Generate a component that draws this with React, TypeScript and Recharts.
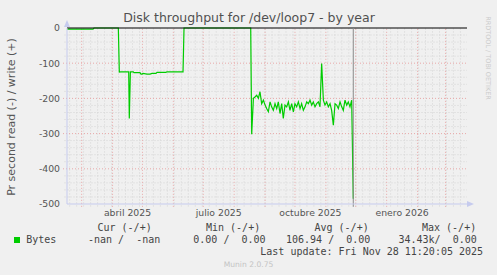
import { LineChart, Line, XAxis, YAxis, ReferenceLine } from "recharts";

// days counted from 1 Jan 2025
const X_MIN = 44.3;
const X_MAX = 445.6;

const earlyDays = [44.5, 70.4, 71.4, 95.8];
const earlyRead = [-3, -3, 0, 0];

const springDays = [
  96.8, 98.2, 106.2, 106.8, 107.9, 110.8, 111.5, 117.5, 118.5, 119.5, 120.5,
  124.6, 127.6, 129.6, 133.6, 134.6, 143.6, 144.6, 160.7, 161.7,
];
const springRead = [
  -125, -124.5, -124.5, -257, -124.5, -124.5, -127, -127, -131, -131, -129,
  -131, -131, -129, -129, -126, -126, -124.5, -124.5, 0,
];

const autumnDays = [
  228.6, 229.6, 231.3, 232.9, 234.6, 236.3, 237.9, 239.6, 241.3, 243.0, 244.6,
  246.3, 248.0, 249.6, 251.3, 253.0, 254.7, 256.3, 258.0, 259.7, 261.3, 263.0,
  264.7, 266.4, 268.0, 269.7, 271.4, 273.0, 274.7, 276.4, 278.1, 279.7, 281.4,
  283.1, 284.8, 286.4, 288.1, 289.8, 291.4, 293.1, 294.8, 296.5, 298.1, 299.8,
  301.5, 303.1, 304.8, 306.5, 308.2, 309.8, 311.5, 313.2, 314.8, 316.5, 318.2,
  319.9, 321.5, 323.2, 324.9, 326.5, 328.2, 329.9, 331.5,
];
const autumnRead = [
  0, -302, -200, -196, -191, -200, -181, -215, -205, -219, -229, -238, -210,
  -224, -234, -215, -229, -210, -243, -215, -257, -219, -224, -210, -234, -215,
  -238, -215, -224, -210, -229, -215, -234, -224, -210, -215, -205, -219, -210,
  -224, -215, -210, -224, -101, -205, -219, -210, -224, -215, -234, -276, -215,
  -219, -229, -210, -224, -234, -205, -219, -210, -224, -205, -485,
];

const NOW_DAY = 331.5;

const monthStarts = [59, 90, 120, 151, 181, 212, 243, 273, 304, 334, 365, 396, 424];
const xTickDays = [105, 196.5, 288.5, 380.5];
const xTickLabels = ["abril 2025", "julio 2025", "octubre 2025", "enero 2026"];
const yTicks = [-500, -400, -300, -200, -100, 0];

const weekLines: number[] = [];
for (let d = 47; d < X_MAX; d += 7) weekLines.push(d);
const minorY: number[] = [];
for (let v = -480; v < 0; v += 20) if (v % 100 !== 0) minorY.push(v);

const data = [
  ...earlyDays.map((d, i) => ({ day: d, read: earlyRead[i] })),
  ...springDays.map((d, i) => ({ day: d, read: springRead[i] })),
  ...autumnDays.map((d, i) => ({ day: d, read: autumnRead[i] })),
];

const AXIS = "#c6cbee";
const MINOR = "#d4d4d4";
const MAJOR = "#e8a8a8";
const TEXT = "#555";
const MONO = "'DejaVu Sans Mono', monospace";

const abs = (left: number, top: number, extra: React.CSSProperties = {}): React.CSSProperties => ({
  position: "absolute",
  left,
  top,
  lineHeight: "10px",
  whiteSpace: "pre",
  ...extra,
});

export default function App() {
  return (
    <div
      style={{
        position: "absolute",
        left: 0,
        top: 0,
        width: 497,
        height: 275,
        background: "#f0f0f0",
        fontFamily: "'DejaVu Sans', sans-serif",
        overflow: "hidden",
      }}
    >
      <div
        style={{
          position: "absolute",
          left: 0,
          top: 11,
          width: 498,
          textAlign: "center",
          fontSize: 12.5,
          lineHeight: "14px",
          color: "#505050",
        }}
      >
        Disk throughput for /dev/loop7 - by year
      </div>
      <div
        style={{
          position: "absolute",
          left: 11,
          top: 117,
          transform: "translate(-50%, -50%) rotate(-90deg)",
          whiteSpace: "nowrap",
          fontSize: 11,
          color: TEXT,
        }}
      >
        Pr second read (-) / write (+)
      </div>
      <div
        style={{
          position: "absolute",
          left: 488,
          top: 58,
          transform: "translate(-50%, -50%) rotate(90deg)",
          whiteSpace: "nowrap",
          fontSize: 6.5,
          color: "#cccccc",
        }}
      >
        RRDTOOL / TOBI OETIKER
      </div>

      <LineChart
        width={497}
        height={275}
        data={data}
        margin={{ top: 28, right: 30, bottom: 41, left: 0 }}
        style={{ position: "absolute", left: 0, top: 0 }}
      >
        <XAxis
          type="number"
          dataKey="day"
          domain={[X_MIN, X_MAX]}
          allowDataOverflow
          ticks={xTickDays}
          interval={0}
          tickFormatter={(v: number) => xTickLabels[xTickDays.indexOf(v)] ?? ""}
          height={30}
          tickLine={false}
          tickSize={0}
          tickMargin={5}
          axisLine={{ stroke: AXIS }}
          tick={{ fontSize: 9.3, fill: TEXT }}
        />
        <YAxis
          type="number"
          domain={[-500, 0]}
          ticks={yTicks}
          interval={0}
          width={67}
          tickLine={false}
          tickSize={0}
          tickMargin={7}
          axisLine={{ stroke: AXIS }}
          tick={{ fontSize: 9.3, fill: TEXT }}
        />
        {weekLines.map((d) => (
          <ReferenceLine
            key={`w${d}`}
            segment={[{ x: d, y: -507 }, { x: d, y: 0 }]}
            ifOverflow="visible"
            stroke={MINOR}
            strokeDasharray="1 2"
          />
        ))}
        {minorY.map((v) => (
          <ReferenceLine
            key={`h${v}`}
            segment={[{ x: X_MIN - 2.5, y: v }, { x: X_MAX, y: v }]}
            ifOverflow="visible"
            stroke={MINOR}
            strokeDasharray="1 2"
          />
        ))}
        {monthStarts.map((d) => (
          <ReferenceLine
            key={`m${d}`}
            segment={[{ x: d, y: -508 }, { x: d, y: 0 }]}
            ifOverflow="visible"
            stroke={MAJOR}
            strokeDasharray="1 2"
          />
        ))}
        {yTicks.slice(1, 5).map((v) => (
          <ReferenceLine
            key={`H${v}`}
            segment={[{ x: X_MIN - 4, y: v }, { x: X_MAX, y: v }]}
            ifOverflow="visible"
            stroke={MAJOR}
            strokeDasharray="1 2"
          />
        ))}
        <Line
          type="linear"
          dataKey="read"
          stroke="#00cc00"
          strokeWidth={1.2}
          dot={false}
          activeDot={false}
          isAnimationActive={false}
        />
        <ReferenceLine y={0} stroke="#000" strokeWidth={1} />
        <ReferenceLine
          segment={[{ x: NOW_DAY, y: -508 }, { x: NOW_DAY, y: 0 }]}
          ifOverflow="visible"
          stroke="#8a8a8a"
        />
      </LineChart>

      <svg width={497} height={275} style={{ position: "absolute", left: 0, top: 0, pointerEvents: "none" }}>
        <polygon points="64,27 70,27 67,20" fill={AXIS} />
        <polygon points="467,201 467,207 474,204" fill={AXIS} />
      </svg>

      <div style={{ fontFamily: MONO, fontSize: 10, color: "#444" }}>
        <div style={abs(97.5, 223)}>Cur (-/+)</div>
        <div style={abs(206, 223)}>Min (-/+)</div>
        <div style={abs(314.5, 223)}>Avg (-/+)</div>
        <div style={abs(422, 223)}>Max (-/+)</div>
        <div style={{ position: "absolute", left: 14, top: 237, width: 6, height: 6, background: "#00cc00" }} />
        <div style={abs(26.2, 235)}>Bytes</div>
        <div style={abs(88, 235)}>-nan /  -nan</div>
        <div style={abs(193.3, 235)}>0.00 /  0.00</div>
        <div style={abs(286, 235)}>106.94 /  0.00</div>
        <div style={abs(398.5, 235)}>34.43k/  0.00</div>
        <div style={abs(260.3, 246.5)}>Last update: Fri Nov 28 11:20:05 2025</div>
      </div>
      <div
        style={{
          position: "absolute",
          left: 0,
          top: 259.5,
          width: 497,
          textAlign: "center",
          fontSize: 7.6,
          lineHeight: "10px",
          color: "#c4c4c4",
        }}
      >
        Munin 2.0.75
      </div>
    </div>
  );
}
